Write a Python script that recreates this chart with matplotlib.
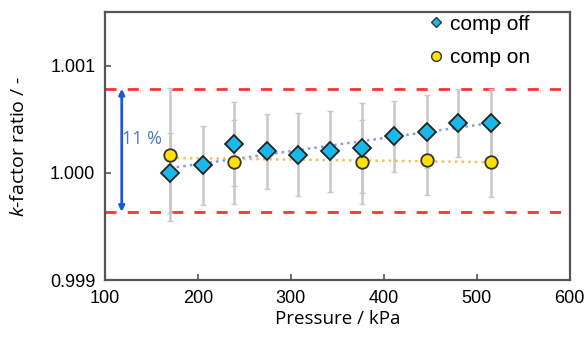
import matplotlib
matplotlib.use('Agg')
import matplotlib.pyplot as plt
import numpy as np

plt.rcParams['font.family'] = ['Liberation Sans', 'DejaVu Sans']
plt.rcParams['mathtext.fontset'] = 'custom'
plt.rcParams['mathtext.it'] = 'Open Sans:italic'

# comp off series
p_off = [170, 205, 239, 274, 308, 342, 377, 411, 446, 480, 515]
k_off = [1.00000, 1.00007, 1.000268, 1.000202, 1.000171, 1.000202,
         1.000231, 1.000343, 1.000383, 1.000464, 1.000470]
err_off = [0.00037, 0.00037, 0.00039, 0.00035, 0.00039, 0.00038,
           0.00042, 0.00033, 0.00034, 0.00032, 0.00031]

# comp on series
p_on = [170, 239, 377, 446, 515]
k_on = [1.000168, 1.000100, 1.000103, 1.000118, 1.000106]
err_on = [0.00062, 0.00039, 0.00039, 0.00032, 0.00033]

band_hi = 1.000785
band_lo = 0.999636

fig = plt.figure(figsize=(5.85, 3.45), dpi=100)
ax = fig.add_axes([0.1795, 0.188, 0.7945, 0.777])

# limits band
ax.axhline(band_hi, color='#ff3333', lw=2, dashes=(4, 4))
ax.axhline(band_lo, color='#ff3333', lw=2, dashes=(4, 4))

# error bars
ax.errorbar(p_off, k_off, yerr=err_off, fmt='none', ecolor='#c8c8c8',
            elinewidth=1.8, capsize=2, capthick=1, zorder=2)
ax.errorbar(p_on, k_on, yerr=err_on, fmt='none', ecolor='#c8c8c8',
            elinewidth=1.8, capsize=2, capthick=1, zorder=2)

# trend lines
f_off = np.polyfit(p_off, k_off, 1)
f_on = np.polyfit(p_on, k_on, 1)
xs = np.array([p_off[0], p_off[-1]])
ax.plot(xs, np.polyval(f_off, xs), ls=':', color='#5070e0', lw=1.8, alpha=0.7, zorder=3)
xs2 = np.array([p_on[0], p_on[-1]])
ax.plot(xs2, np.polyval(f_on, xs2), ls=':', color='#f0b030', lw=1.8, alpha=0.8, zorder=3)

# points
ax.plot(p_on, k_on, 'o', ms=9, mfc='#ffe000', mec='#333333', mew=1.3,
        ls='none', zorder=4)
ax.plot(p_off, k_off, 'D', ms=9.5, mfc='#19b8e8', mec='#222222', mew=1.3,
        ls='none', zorder=5)

# legend proxies
h1, = ax.plot([], [], 'D', ms=5, mfc='#19b8e8', mec='#333333', mew=1, ls='none')
h2, = ax.plot([], [], 'o', ms=7, mfc='#ffe000', mec='#333333', mew=1, ls='none')
ax.legend([h1, h2], ['comp off', 'comp on'], loc='upper left',
          bbox_to_anchor=(0.65, 1.06), frameon=False, fontsize=15,
          handletextpad=0.15, handlelength=1.0, labelspacing=0.7)

# 11 % arrow
ax.annotate('', xy=(118, band_lo), xytext=(118, band_hi),
            arrowprops=dict(arrowstyle='<|-|>', color='#1a5ad8', lw=2,
                            mutation_scale=8, shrinkA=0, shrinkB=0))
ax.text(118.5, 1.000318, '11 %', color='#4a78d0', fontsize=13,
        va='center', ha='left', family=['Open Sans', 'DejaVu Sans'])

ax.set_xlim(100, 600)
ax.set_ylim(0.999, 1.0015)
ax.set_xticks([100, 200, 300, 400, 500, 600])
ax.set_yticks([0.999, 1.000, 1.001])
ax.set_yticklabels(['0.999', '1.000', '1.001'])
ax.tick_params(direction='in', length=4, width=1.2, color='#555555',
               labelsize=13, pad=7)
for s in ax.spines.values():
    s.set_color('#555555')
    s.set_linewidth(1.6)

ax.set_xlabel('Pressure / kPa', fontsize=13.5, labelpad=2,
              family=['Open Sans', 'DejaVu Sans'])
ax.set_ylabel('$k$-factor ratio / -', fontsize=14, labelpad=16,
              family=['Open Sans', 'DejaVu Sans'])

fig.savefig('out.png', dpi=100)
